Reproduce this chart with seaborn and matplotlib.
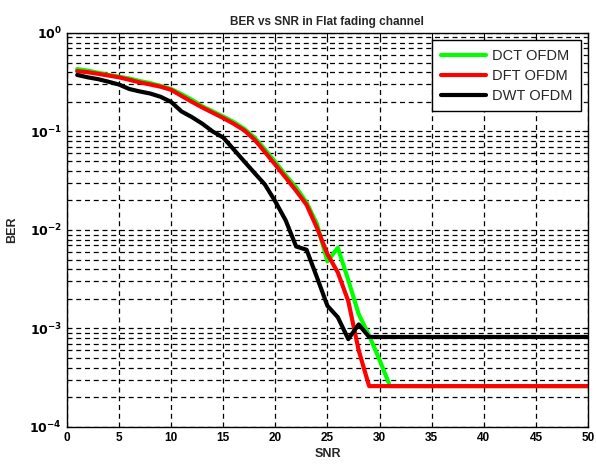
import pandas as pd
import matplotlib
matplotlib.use('Agg')
import matplotlib.pyplot as plt
import seaborn as sns
from matplotlib.ticker import FixedLocator, LogLocator, NullFormatter

# SNR axis (dB)
snr = list(range(1, 51))

# BER
ber_dct = [0.43, 0.415, 0.395, 0.375, 0.36, 0.345, 0.325, 0.31, 0.29, 0.27,
           0.24, 0.21, 0.18, 0.16, 0.142, 0.125, 0.107, 0.087, 0.066, 0.049,
           0.036, 0.027, 0.019, 0.0115, 0.0048, 0.0066, 0.0031, 0.0014, 0.00085, 0.00048,
           0.00026, 0.00026, 0.00026, 0.00026, 0.00026, 0.00026, 0.00026, 0.00026, 0.00026, 0.00026,
           0.00026, 0.00026, 0.00026, 0.00026, 0.00026, 0.00026, 0.00026, 0.00026, 0.00026, 0.00026]
ber_dft = [0.41, 0.40, 0.385, 0.37, 0.355, 0.335, 0.315, 0.30, 0.285, 0.265,
           0.23, 0.20, 0.175, 0.155, 0.137, 0.12, 0.103, 0.083, 0.062, 0.046,
           0.034, 0.025, 0.018, 0.0105, 0.0057, 0.0037, 0.0019, 0.0006, 0.00026, 0.00026,
           0.00026, 0.00026, 0.00026, 0.00026, 0.00026, 0.00026, 0.00026, 0.00026, 0.00026, 0.00026,
           0.00026, 0.00026, 0.00026, 0.00026, 0.00026, 0.00026, 0.00026, 0.00026, 0.00026, 0.00026]
ber_dwt = [0.375, 0.355, 0.34, 0.32, 0.30, 0.27, 0.255, 0.243, 0.225, 0.20,
           0.16, 0.14, 0.12, 0.10, 0.087, 0.066, 0.05, 0.038, 0.029, 0.0195,
           0.0125, 0.0068, 0.0063, 0.0033, 0.0017, 0.0013, 0.00078, 0.0011, 0.00082, 0.00082,
           0.00082, 0.00082, 0.00082, 0.00082, 0.00082, 0.00082, 0.00082, 0.00082, 0.00082, 0.00082,
           0.00082, 0.00082, 0.00082, 0.00082, 0.00082, 0.00082, 0.00082, 0.00082, 0.00082, 0.00082]

labels = ['DCT OFDM', 'DFT OFDM', 'DWT OFDM']
colors = ['#00ff00', '#ff0000', '#000000']
x_ticks = [0, 5, 10, 15, 20, 25, 30, 35, 40, 45, 50]
y_ticks = [1e-4, 1e-3, 1e-2, 1e-1, 1e0]
y_ticklabels = [r'$\mathbf{10^{-4}}$', r'$\mathbf{10^{-3}}$', r'$\mathbf{10^{-2}}$',
                r'$\mathbf{10^{-1}}$', r'$\mathbf{10^{0}}$']

df = pd.concat([
    pd.DataFrame({'SNR': snr, 'BER': ber_dct, 'scheme': labels[0]}),
    pd.DataFrame({'SNR': snr, 'BER': ber_dft, 'scheme': labels[1]}),
    pd.DataFrame({'SNR': snr, 'BER': ber_dwt, 'scheme': labels[2]}),
], ignore_index=True)

sns.set_style('white')
plt.rcParams['font.family'] = ['Liberation Sans', 'DejaVu Sans']

fig = plt.figure(figsize=(5.96, 4.66), dpi=100)
ax = fig.add_axes([0.112, 0.0837, 0.8747, 0.8455])

sns.lineplot(data=df, x='SNR', y='BER', hue='scheme', hue_order=labels,
             palette=colors, linewidth=3, ax=ax, legend=True)

ax.set_yscale('log')
ax.set_xlim(0, 50)
ax.set_ylim(1e-4, 1e0)

# grid like MATLAB "grid on" with log minor lines
ax.grid(True, which='major', axis='both', color='k', linestyle=(0, (4, 3)), linewidth=0.9)
ax.yaxis.set_minor_locator(LogLocator(base=10, subs=range(2, 10)))
ax.yaxis.set_minor_formatter(NullFormatter())
ax.grid(True, which='minor', axis='y', color='k', linestyle=(0, (4, 3)), linewidth=0.9)
ax.set_axisbelow(True)

ax.xaxis.set_major_locator(FixedLocator(x_ticks))
ax.set_xticklabels([str(t) for t in x_ticks], fontsize=8.5, fontweight='bold')
ax.yaxis.set_major_locator(FixedLocator(y_ticks))
ax.set_yticklabels(y_ticklabels, fontsize=9)
ax.tick_params(direction='in', top=True, right=True, length=4, width=0.8, colors='k')
ax.tick_params(which='minor', direction='in', right=True, length=2, width=0.6)
for s in ax.spines.values():
    s.set_color('k')
    s.set_linewidth(1.0)

ax.set_title('BER vs SNR in Flat fading channel', fontsize=8.5, fontweight='bold', pad=6)
ax.set_xlabel('SNR', fontsize=9, fontweight='bold', labelpad=3)
ax.set_ylabel('BER', fontsize=9, fontweight='bold', labelpad=8)

leg = ax.legend(loc='upper right', fontsize=10.5, frameon=True, fancybox=False,
                framealpha=1, edgecolor='k', handlelength=3.1, handletextpad=0.35,
                borderpad=0.6, labelspacing=0.4, borderaxespad=0.5)
leg.get_frame().set_linewidth(1.0)
for line in leg.get_lines():
    line.set_linewidth(3)

fig.savefig('out.png', dpi=100)
